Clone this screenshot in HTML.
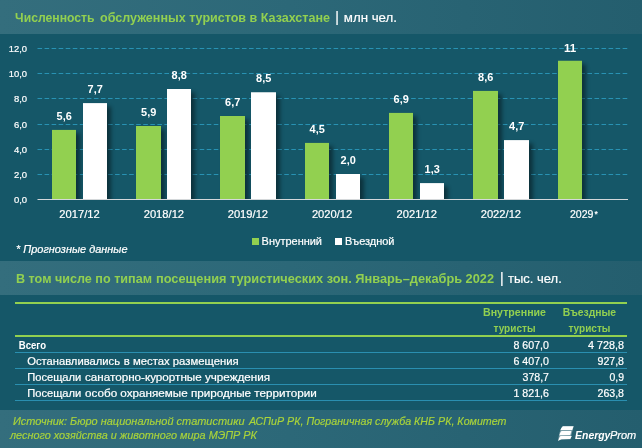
<!DOCTYPE html>
<html lang="ru"><head><meta charset="utf-8"><title>Численность обслуженных туристов в Казахстане</title>
<style>
html,body{margin:0;padding:0;background:#155768;}
svg{display:block;font-family:"Liberation Sans",sans-serif;}
.b{font-weight:bold}
.i{font-style:italic}
.w{fill:#fff}
.g{fill:#92d050}
.t{stroke:#fff;stroke-width:0.2px}
</style></head><body>
<svg width="642" height="448" viewBox="0 0 642 448">
<defs>
<linearGradient id="band" x1="0" x2="1" y1="0" y2="0">
<stop offset="0" stop-color="#346e7d"/><stop offset="0.45" stop-color="#2c6878"/><stop offset="1" stop-color="#245e6e"/>
</linearGradient>
</defs>
<rect width="642" height="448" fill="#155768"/>
<rect x="0" y="0" width="642" height="34" fill="url(#band)"/>
<rect x="0" y="261" width="642" height="34" fill="url(#band)"/>
<rect x="0" y="410" width="642" height="38" fill="url(#band)"/>
<text x="15.1" y="21.85" font-size="13.4" class="g b" textLength="79.40" lengthAdjust="spacingAndGlyphs">Численность</text>
<text x="100" y="21.85" font-size="13.4" class="g b" textLength="230.00" lengthAdjust="spacingAndGlyphs">обслуженных туристов в Казахстане</text>
<text x="335.3" y="22.2" font-size="14" class="w t">|</text>
<text x="343.75" y="21.7" font-size="13.3" class="w t" textLength="53.25" lengthAdjust="spacingAndGlyphs">млн чел.</text>
<line x1="37.5" x2="628" y1="174.5" y2="174.5" stroke="#2892b3" stroke-width="1" stroke-dasharray="4.6 2.45"/>
<line x1="37.5" x2="628" y1="149.5" y2="149.5" stroke="#2892b3" stroke-width="1" stroke-dasharray="4.6 2.45"/>
<line x1="37.5" x2="628" y1="124.5" y2="124.5" stroke="#2892b3" stroke-width="1" stroke-dasharray="4.6 2.45"/>
<line x1="37.5" x2="628" y1="98.5" y2="98.5" stroke="#2892b3" stroke-width="1" stroke-dasharray="4.6 2.45"/>
<line x1="37.5" x2="628" y1="73.5" y2="73.5" stroke="#2892b3" stroke-width="1" stroke-dasharray="4.6 2.45"/>
<line x1="37.5" x2="628" y1="48.5" y2="48.5" stroke="#2892b3" stroke-width="1" stroke-dasharray="4.6 2.45"/>
<text x="27.1" y="202.90" font-size="9.3" class="w t" text-anchor="end" textLength="13.2" lengthAdjust="spacingAndGlyphs">0,0</text>
<text x="27.1" y="177.90" font-size="9.3" class="w t" text-anchor="end" textLength="13.2" lengthAdjust="spacingAndGlyphs">2,0</text>
<text x="27.1" y="152.90" font-size="9.3" class="w t" text-anchor="end" textLength="13.2" lengthAdjust="spacingAndGlyphs">4,0</text>
<text x="27.1" y="127.90" font-size="9.3" class="w t" text-anchor="end" textLength="13.2" lengthAdjust="spacingAndGlyphs">6,0</text>
<text x="27.1" y="101.90" font-size="9.3" class="w t" text-anchor="end" textLength="13.2" lengthAdjust="spacingAndGlyphs">8,0</text>
<text x="27.1" y="76.90" font-size="9.3" class="w t" text-anchor="end" textLength="18.3" lengthAdjust="spacingAndGlyphs">10,0</text>
<text x="27.1" y="51.90" font-size="9.3" class="w t" text-anchor="end" textLength="18.3" lengthAdjust="spacingAndGlyphs">12,0</text>
<clipPath id="plot"><rect x="30" y="40" width="600" height="159"/></clipPath>
<filter id="blur" x="-20%" y="-20%" width="140%" height="140%"><feGaussianBlur stdDeviation="2.2"/></filter>
<g clip-path="url(#plot)"><g filter="url(#blur)" fill="#000" opacity="0.44"><rect x="55.8" y="133.3" width="24" height="70.1"/><rect x="86.8" y="106.5" width="24" height="96.9"/><rect x="139.8" y="129.4" width="25" height="74.0"/><rect x="170.8" y="92.4" width="24" height="111.0"/><rect x="223.8" y="119.4" width="25" height="84.0"/><rect x="254.8" y="95.7" width="25" height="107.8"/><rect x="308.8" y="146.3" width="24" height="57.1"/><rect x="339.8" y="177.4" width="24" height="26.0"/><rect x="392.8" y="116.3" width="24" height="87.1"/><rect x="423.8" y="186.5" width="24" height="16.9"/><rect x="476.8" y="94.3" width="25" height="109.1"/><rect x="507.8" y="143.5" width="25" height="59.9"/><rect x="561.8" y="64.2" width="24" height="139.2"/></g></g>
<rect x="52" y="129.90" width="24" height="69.60" fill="#92d050"/>
<rect x="83" y="103.10" width="24" height="96.40" fill="#fff"/>
<rect x="136" y="126.00" width="25" height="73.50" fill="#92d050"/>
<rect x="167" y="89.00" width="24" height="110.50" fill="#fff"/>
<rect x="220" y="116.00" width="25" height="83.50" fill="#92d050"/>
<rect x="251" y="92.25" width="25" height="107.25" fill="#fff"/>
<rect x="305" y="142.90" width="24" height="56.60" fill="#92d050"/>
<rect x="336" y="174.00" width="24" height="25.50" fill="#fff"/>
<rect x="389" y="112.90" width="24" height="86.60" fill="#92d050"/>
<rect x="420" y="183.10" width="24" height="16.40" fill="#fff"/>
<rect x="473" y="90.90" width="25" height="108.60" fill="#92d050"/>
<rect x="504" y="140.10" width="25" height="59.40" fill="#fff"/>
<rect x="558" y="60.75" width="24" height="138.75" fill="#92d050"/>
<text x="64.2" y="119.75" font-size="10.8" class="w b" text-anchor="middle" textLength="15.2" lengthAdjust="spacingAndGlyphs">5,6</text>
<text x="95.2" y="92.95" font-size="10.8" class="w b" text-anchor="middle" textLength="15.2" lengthAdjust="spacingAndGlyphs">7,7</text>
<text x="79.55" y="217.5" font-size="10.7" class="w t" text-anchor="middle" textLength="40.4" lengthAdjust="spacingAndGlyphs">2017/12</text>
<text x="148.7" y="115.60" font-size="10.8" class="w b" text-anchor="middle" textLength="15.2" lengthAdjust="spacingAndGlyphs">5,9</text>
<text x="179.2" y="78.75" font-size="10.8" class="w b" text-anchor="middle" textLength="15.2" lengthAdjust="spacingAndGlyphs">8,8</text>
<text x="163.90" y="217.5" font-size="10.7" class="w t" text-anchor="middle" textLength="40.4" lengthAdjust="spacingAndGlyphs">2018/12</text>
<text x="232.7" y="105.60" font-size="10.8" class="w b" text-anchor="middle" textLength="15.2" lengthAdjust="spacingAndGlyphs">6,7</text>
<text x="263.7" y="82.40" font-size="10.8" class="w b" text-anchor="middle" textLength="15.2" lengthAdjust="spacingAndGlyphs">8,5</text>
<text x="247.90" y="217.5" font-size="10.7" class="w t" text-anchor="middle" textLength="40.4" lengthAdjust="spacingAndGlyphs">2019/12</text>
<text x="317.2" y="133.00" font-size="10.8" class="w b" text-anchor="middle" textLength="15.2" lengthAdjust="spacingAndGlyphs">4,5</text>
<text x="348.2" y="163.80" font-size="10.8" class="w b" text-anchor="middle" textLength="15.2" lengthAdjust="spacingAndGlyphs">2,0</text>
<text x="332.10" y="217.5" font-size="10.7" class="w t" text-anchor="middle" textLength="40.4" lengthAdjust="spacingAndGlyphs">2020/12</text>
<text x="401.2" y="102.50" font-size="10.8" class="w b" text-anchor="middle" textLength="15.2" lengthAdjust="spacingAndGlyphs">6,9</text>
<text x="432.2" y="172.80" font-size="10.8" class="w b" text-anchor="middle" textLength="15.2" lengthAdjust="spacingAndGlyphs">1,3</text>
<text x="416.70" y="217.5" font-size="10.7" class="w t" text-anchor="middle" textLength="40.4" lengthAdjust="spacingAndGlyphs">2021/12</text>
<text x="485.7" y="81.20" font-size="10.8" class="w b" text-anchor="middle" textLength="15.2" lengthAdjust="spacingAndGlyphs">8,6</text>
<text x="516.7" y="129.80" font-size="10.8" class="w b" text-anchor="middle" textLength="15.2" lengthAdjust="spacingAndGlyphs">4,7</text>
<text x="500.90" y="217.5" font-size="10.7" class="w t" text-anchor="middle" textLength="40.4" lengthAdjust="spacingAndGlyphs">2022/12</text>
<text x="570.2" y="52.00" font-size="10.8" class="w b" text-anchor="middle" textLength="12.2" lengthAdjust="spacingAndGlyphs">11</text>
<text x="570" y="217.5" font-size="10.7" class="w t" textLength="23.5" lengthAdjust="spacingAndGlyphs">2029</text>
<text x="594.6" y="216.9" font-size="8.5" class="w b">*</text>
<line x1="37.5" x2="628" y1="199.5" y2="199.5" stroke="#d4d8da" stroke-width="1"/>
<text x="16" y="252.9" font-size="10.3" class="w i t" textLength="111.5" lengthAdjust="spacingAndGlyphs">* Прогнозные данные</text>
<rect x="252" y="238" width="7" height="7" fill="#92d050"/>
<text x="261.6" y="244.9" font-size="10.6" class="w t" textLength="60.4" lengthAdjust="spacingAndGlyphs">Внутренний</text>
<rect x="335" y="238" width="7" height="7" fill="#fff"/>
<text x="345" y="244.9" font-size="10.6" class="w t" textLength="49.5" lengthAdjust="spacingAndGlyphs">Въездной</text>
<text x="16" y="282.6" font-size="13.3" class="g b" textLength="136.00" lengthAdjust="spacingAndGlyphs">В том числе по типам</text>
<text x="156" y="282.6" font-size="13.3" class="g b" textLength="338.00" lengthAdjust="spacingAndGlyphs">посещения туристических зон. Январь–декабрь 2022</text>
<text x="499.9" y="283.2" font-size="14" class="w t">|</text>
<text x="508" y="282.7" font-size="13.3" class="w t" textLength="53.75" lengthAdjust="spacingAndGlyphs">тыс. чел.</text>
<rect x="15" y="302" width="612" height="2" fill="#92d050"/>
<rect x="15" y="335" width="612" height="2" fill="#92d050"/>
<text x="514.5" y="316" font-size="10.8" class="g b" text-anchor="middle" textLength="63" lengthAdjust="spacingAndGlyphs">Внутренние</text>
<text x="514.5" y="331.5" font-size="10.8" class="g b" text-anchor="middle" textLength="42" lengthAdjust="spacingAndGlyphs">туристы</text>
<text x="589.4" y="316" font-size="10.8" class="g b" text-anchor="middle" textLength="53.5" lengthAdjust="spacingAndGlyphs">Въездные</text>
<text x="589.4" y="331.5" font-size="10.8" class="g b" text-anchor="middle" textLength="42" lengthAdjust="spacingAndGlyphs">туристы</text>
<text x="18.75" y="348.8" font-size="10.6" class="w b" textLength="27.25" lengthAdjust="spacingAndGlyphs">Всего</text>
<text x="549" y="348.8" font-size="10.6" class="w t" text-anchor="end" textLength="35.5" lengthAdjust="spacingAndGlyphs">8 607,0</text>
<text x="624" y="348.8" font-size="10.6" class="w t" text-anchor="end" textLength="36" lengthAdjust="spacingAndGlyphs">4 728,8</text>
<line x1="15" x2="627" y1="352.5" y2="352.5" stroke="#2a8fb0" stroke-width="1"/>
<text x="27.2" y="364.8" font-size="10.6" class="w t" textLength="92.80" lengthAdjust="spacingAndGlyphs">Останавливались</text>
<text x="123.75" y="364.8" font-size="10.6" class="w t" textLength="115.00" lengthAdjust="spacingAndGlyphs">в местах размещения</text>
<text x="549" y="364.8" font-size="10.6" class="w t" text-anchor="end" textLength="35.5" lengthAdjust="spacingAndGlyphs">6 407,0</text>
<text x="624" y="364.8" font-size="10.6" class="w t" text-anchor="end" textLength="26.5" lengthAdjust="spacingAndGlyphs">927,8</text>
<line x1="15" x2="627" y1="368.5" y2="368.5" stroke="#2a8fb0" stroke-width="1"/>
<text x="27.2" y="380.8" font-size="10.6" class="w t" textLength="54.05" lengthAdjust="spacingAndGlyphs">Посещали</text>
<text x="85" y="380.8" font-size="10.6" class="w t" textLength="185.00" lengthAdjust="spacingAndGlyphs">санаторно-курортные учреждения</text>
<text x="549" y="380.8" font-size="10.6" class="w t" text-anchor="end" textLength="26.5" lengthAdjust="spacingAndGlyphs">378,7</text>
<text x="624" y="380.8" font-size="10.6" class="w t" text-anchor="end" textLength="14.5" lengthAdjust="spacingAndGlyphs">0,9</text>
<line x1="15" x2="627" y1="384.5" y2="384.5" stroke="#2a8fb0" stroke-width="1"/>
<text x="27.2" y="396.8" font-size="10.6" class="w t" textLength="54.05" lengthAdjust="spacingAndGlyphs">Посещали</text>
<text x="85" y="396.8" font-size="10.6" class="w t" textLength="231.75" lengthAdjust="spacingAndGlyphs">особо охраняемые природные территории</text>
<text x="549" y="396.8" font-size="10.6" class="w t" text-anchor="end" textLength="35.5" lengthAdjust="spacingAndGlyphs">1 821,6</text>
<text x="624" y="396.8" font-size="10.6" class="w t" text-anchor="end" textLength="26.5" lengthAdjust="spacingAndGlyphs">263,8</text>
<line x1="15" x2="627" y1="400.5" y2="400.5" stroke="#2a8fb0" stroke-width="1"/>
<text x="13" y="424.8" font-size="10.6" class="i" fill="#aad43a" stroke="#aad43a" stroke-width="0.15" textLength="231.50" lengthAdjust="spacingAndGlyphs">Источник: Бюро национальной статистики</text>
<text x="249" y="424.8" font-size="10.6" class="i" fill="#aad43a" stroke="#aad43a" stroke-width="0.15" textLength="257.50" lengthAdjust="spacingAndGlyphs">АСПиР РК, Пограничная служба КНБ РК, Комитет</text>
<text x="10" y="439.2" font-size="10.6" class="i" fill="#aad43a" stroke="#aad43a" stroke-width="0.15" textLength="247.00" lengthAdjust="spacingAndGlyphs">лесного хозяйства и животного мира МЭПР РК</text>
<path d="M562.8 426.2 L573.6 426.2 L570.3 439.2 L561.5 439.4 Q559.5 439.8 558.2 441 Q559 430 562.8 426.2 Z" fill="#fff" opacity="0.4"/>
<g fill="#fff">
<path d="M562.8 426.2 L573.6 426.2 L572.2 430 L560.5 430.1 Q561 427.5 562.8 426.2 Z"/>
<path d="M561.5 431.1 L571.3 431.1 L570.3 435 L559.4 435.2 Q560 432.5 561.5 431.1 Z"/>
<path d="M560.5 436 L571.8 436 L570.3 439 L561.5 439.2 Q559.5 439.6 558.2 441 Q558.6 437.8 560.5 436 Z"/>
</g>
<text x="575.1" y="439.2" font-size="11.3" class="w b i" textLength="35.3" lengthAdjust="spacingAndGlyphs">Energy</text>
<text x="610" y="439.2" font-size="11.3" class="w i t" textLength="26.3" lengthAdjust="spacingAndGlyphs">Prom</text>
</svg>
</body></html>
